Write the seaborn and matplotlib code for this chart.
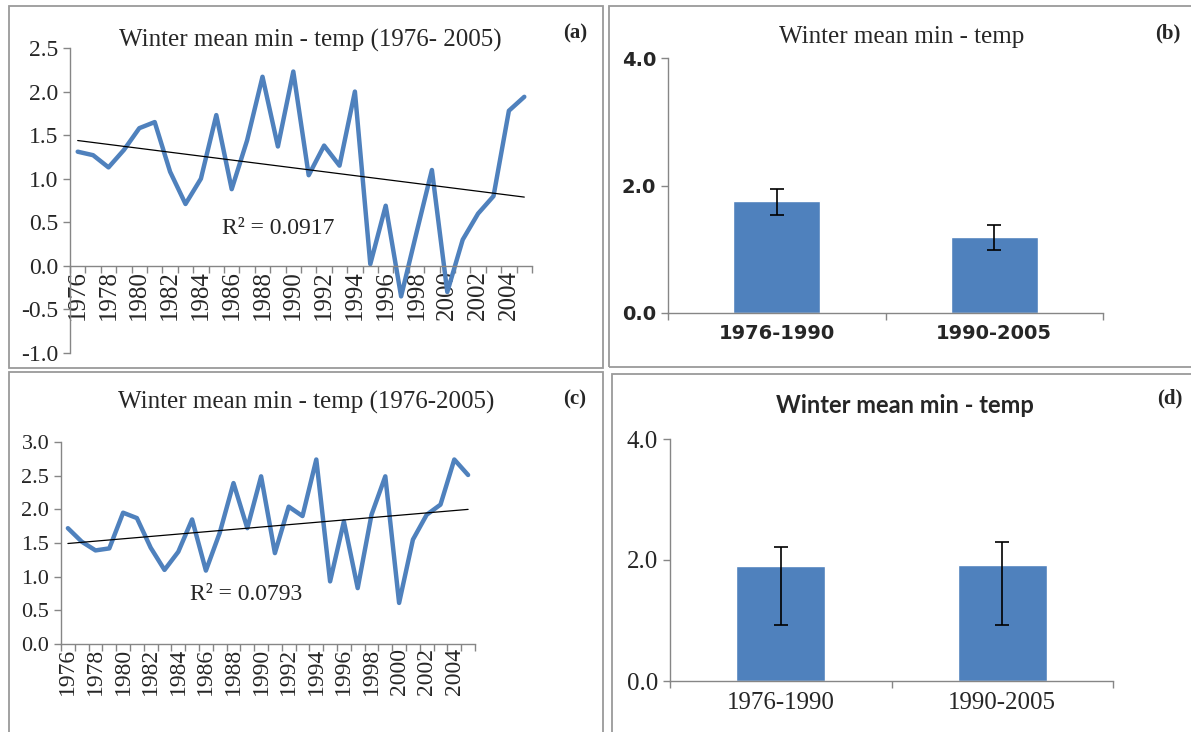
import numpy as np
import pandas as pd
import seaborn as sns
import matplotlib.pyplot as plt
from matplotlib.patches import Rectangle

years = list(range(1976, 2006))

# panel (a) winter mean min-temp, station 1
temp_a = [1.31, 1.27, 1.13, 1.33, 1.58, 1.65, 1.08, 0.71, 1.00, 1.73,
          0.88, 1.44, 2.17, 1.37, 2.23, 1.04, 1.38, 1.15, 2.00, 0.02,
          0.69, -0.35, 0.38, 1.10, -0.30, 0.30, 0.60, 0.80, 1.78, 1.94]
# panel (c) winter mean min-temp, station 2
temp_c = [1.72, 1.52, 1.39, 1.42, 1.95, 1.87, 1.43, 1.10, 1.37, 1.85,
          1.09, 1.65, 2.39, 1.72, 2.49, 1.35, 2.04, 1.90, 2.74, 0.93,
          1.82, 0.83, 1.92, 2.49, 0.61, 1.55, 1.92, 2.07, 2.74, 2.51]

periods = ['1976-1990', '1990-2005']
mean_b = [1.75, 1.19]
err_b_low = [0.21, 0.20]
err_b_high = [0.19, 0.19]
mean_d = [1.90, 1.92]
err_d_low = [0.98, 1.00]
err_d_high = [0.32, 0.37]

r2_a = 'R² = 0.0917'
r2_c = 'R² = 0.0793'

BLUE = '#4f81bd'
GREY = '#868686'
W, H = 1191, 732

sns.set_style('white')
plt.rcParams['axes.unicode_minus'] = False
plt.rcParams['font.family'] = ['Liberation Serif', 'DejaVu Serif']

fig = plt.figure(figsize=(W / 100, H / 100), dpi=100)


def px_axes(left, top, right, bottom):
    return fig.add_axes([left / W, 1 - bottom / H, (right - left) / W, (bottom - top) / H])


def box(x0, y0, x1, y1):
    fig.patches.append(Rectangle((x0 / W, 1 - y1 / H), (x1 - x0) / W, (y1 - y0) / H,
                                 transform=fig.transFigure, fill=False,
                                 edgecolor='#9a9a9a', lw=1.3))


box(9, 6, 603, 368)
box(609, 6, 1240, 367)
box(9, 372, 603, 800)
box(612, 374, 1240, 800)


def style_axes(ax):
    for s in ['top', 'right']:
        ax.spines[s].set_visible(False)
    for s in ['left', 'bottom']:
        ax.spines[s].set_color(GREY)
        ax.spines[s].set_linewidth(1.0)
    ax.tick_params(axis='both', which='major', direction='out', color=GREY,
                   length=5, width=1.0, left=True, bottom=True)


def line_panel(ax, vals, ymin, ymax, ysize, xsize):
    df = pd.DataFrame({'year': years, 'temp': vals})
    sns.lineplot(data=df, x='year', y='temp', ax=ax, color=BLUE, lw=3.2)
    sns.regplot(data=df, x='year', y='temp', ax=ax, scatter=False, ci=None,
                line_kws={'color': 'black', 'lw': 0.9})
    style_axes(ax)
    ax.spines['bottom'].set_position(('data', 0))
    ax.set_xlim(1975.5, 2005.5)
    ax.set_ylim(ymin, ymax)
    ax.set_yticks(np.arange(ymin, ymax + 0.01, 0.5))
    ax.set_yticklabels([f'{v:.1f}' for v in np.arange(ymin, ymax + 0.01, 0.5)],
                       fontsize=ysize)
    ax.set_xticks(np.arange(1975.5, 2006, 1.0))
    ax.set_xticklabels([])
    ax.set_xticks(years[::2], minor=True)
    ax.set_xticklabels([str(y) for y in years[::2]], minor=True, rotation=90,
                       fontsize=xsize)
    ax.tick_params(axis='x', which='minor', length=0, pad=3)
    ax.set_xlabel('')
    ax.set_ylabel('')


def bar_panel(ax, means, lo, hi, ysize, xsize, tickfont, tickweight):
    df = pd.DataFrame({'period': periods, 'mean': means})
    sns.barplot(data=df, x='period', y='mean', ax=ax, color=BLUE, width=0.4,
                saturation=1, errorbar=None)
    ax.errorbar(range(len(periods)), means, yerr=[lo, hi], fmt='none',
                ecolor='black', elinewidth=1.2, capsize=5, capthick=1.2)
    style_axes(ax)
    ax.set_xlim(-0.5, 1.5)
    ax.set_ylim(0, 4)
    ax.set_yticks([0, 2, 4])
    ax.set_yticklabels(['0.0', '2.0', '4.0'], fontsize=ysize,
                       family=tickfont, weight=tickweight)
    ax.set_xticks([-0.5, 0.5, 1.5])
    ax.set_xticklabels([])
    ax.set_xticks([0, 1], minor=True)
    ax.set_xticklabels(periods, minor=True, fontsize=xsize,
                       family=tickfont, weight=tickweight)
    ax.tick_params(axis='x', which='minor', length=0, pad=8)
    ax.set_xlabel('')
    ax.set_ylabel('')


# (a)
ax_a = px_axes(70, 48, 532, 353)
line_panel(ax_a, temp_a, -1.0, 2.5, 17, 18)
fig.text(310 / W, 1 - 40 / H, 'Winter mean min - temp (1976- 2005)', fontsize=18,
         ha='center', va='center')
fig.text(278 / W, 1 - 229 / H, r2_a, fontsize=17, ha='center', va='center')
fig.text(575 / W, 1 - 33 / H, '(a)', fontsize=15, weight='bold', ha='center', va='center')

# (c)
ax_c = px_axes(61, 442, 475, 644)
line_panel(ax_c, temp_c, 0.0, 3.0, 16, 17)
fig.text(306 / W, 1 - 402 / H, 'Winter mean min - temp (1976-2005)', fontsize=18,
         ha='center', va='center')
fig.text(246 / W, 1 - 595 / H, r2_c, fontsize=17, ha='center', va='center')
fig.text(575 / W, 1 - 399 / H, '(c)', fontsize=15, weight='bold', ha='center', va='center')

# (b)
ax_b = px_axes(668, 58, 1103, 313)
bar_panel(ax_b, mean_b, err_b_low, err_b_high, 14, 14, 'DejaVu Sans', 'bold')
fig.text(902 / W, 1 - 37 / H, 'Winter mean min - temp', fontsize=18,
         ha='center', va='center')
fig.text(1168 / W, 1 - 33 / H, '(b)', fontsize=15, weight='bold', ha='center', va='center')

# (d)
ax_d = px_axes(670, 439, 1113, 681)
bar_panel(ax_d, mean_d, err_d_low, err_d_high, 18, 18, 'Liberation Serif', 'normal')
fig.text(905 / W, 1 - 406 / H, 'Winter mean min - temp', fontsize=17,
         family='Lato', weight='bold', ha='center', va='center')
fig.text(1170 / W, 1 - 398 / H, '(d)', fontsize=15, weight='bold', ha='center', va='center')

fig.savefig('out.png', dpi=100)
